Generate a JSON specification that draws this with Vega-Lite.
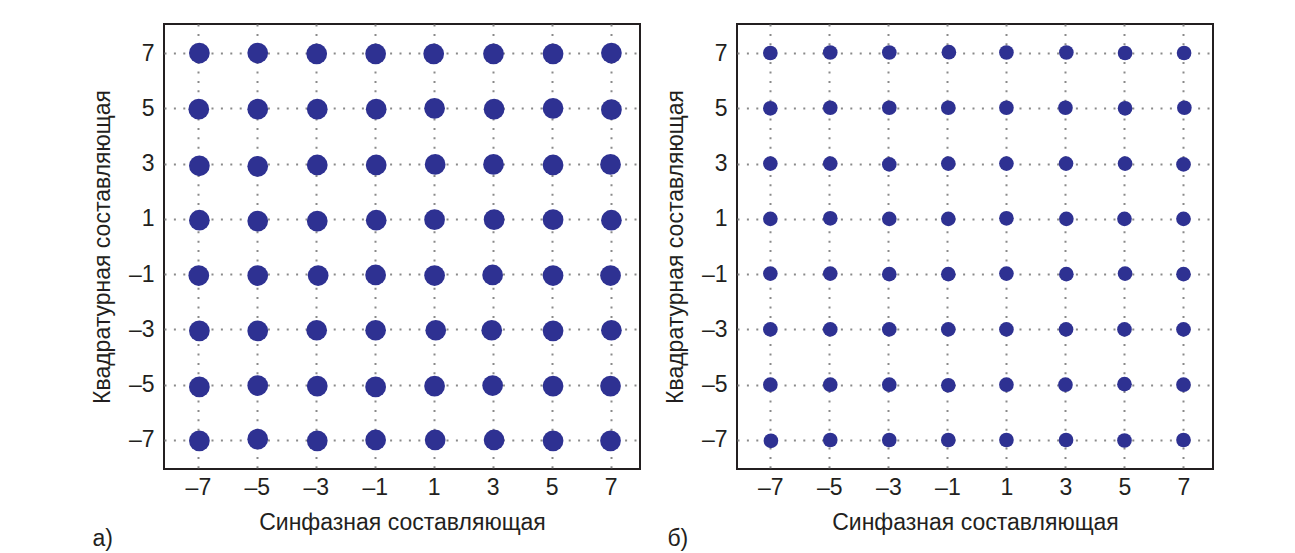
{
  "$schema": "https://vega.github.io/schema/vega-lite/v6.json",
  "background": "white",
  "padding": {"left": 90, "top": 23, "right": 0, "bottom": 0},
  "config": {
    "font": "Liberation Sans",
    "view": {"stroke": "#231f20", "strokeWidth": 2},
    "axis": {
      "grid": true, "gridColor": "#8a8a8a", "gridDash": [2, 7.4], "gridWidth": 2,
      "ticks": false, "domain": false,
      "labelFont": "Liberation Sans", "labelFontSize": 23, "labelColor": "#231f20",
      "titleFont": "Liberation Sans", "titleFontSize": 23, "titleFontWeight": "normal", "titleColor": "#231f20"
    },
    "axisX": {"labelPadding": 7, "titlePadding": 12},
    "axisY": {"labelPadding": 10, "titlePadding": 14},
    "title": {"font": "Liberation Sans", "fontSize": 23, "fontWeight": "normal", "color": "#231f20"},
    "concat": {"spacing": 22}
  },
  "hconcat": [
    {
      "width": 476, "height": 445,
      "title": {"text": "а)", "orient": "bottom", "anchor": "start", "frame": "bounds", "dx": 1, "offset": 0, "dy": -6},
      "data": {"values": [
        {"i": -6.95, "q": 7.0}, {"i": -4.97, "q": 7.0}, {"i": -2.97, "q": 6.97}, {"i": -0.97, "q": 6.97}, {"i": 1.0, "q": 6.97}, {"i": 3.03, "q": 6.97}, {"i": 5.05, "q": 6.97}, {"i": 7.03, "q": 7.0},
        {"i": -6.97, "q": 4.97}, {"i": -4.97, "q": 4.97}, {"i": -2.95, "q": 4.97}, {"i": -0.95, "q": 4.97}, {"i": 1.03, "q": 5.0}, {"i": 3.05, "q": 4.97}, {"i": 5.05, "q": 5.0}, {"i": 7.03, "q": 4.95},
        {"i": -6.95, "q": 2.92}, {"i": -4.97, "q": 2.9}, {"i": -2.95, "q": 2.95}, {"i": -0.95, "q": 2.95}, {"i": 1.05, "q": 2.97}, {"i": 3.03, "q": 2.97}, {"i": 5.05, "q": 2.95}, {"i": 7.0, "q": 2.97},
        {"i": -6.95, "q": 0.95}, {"i": -4.97, "q": 0.92}, {"i": -2.95, "q": 0.92}, {"i": -0.95, "q": 0.95}, {"i": 1.03, "q": 0.97}, {"i": 3.05, "q": 0.97}, {"i": 5.05, "q": 0.97}, {"i": 7.03, "q": 0.95},
        {"i": -6.97, "q": -1.05}, {"i": -4.97, "q": -1.05}, {"i": -2.92, "q": -1.05}, {"i": -0.97, "q": -1.03}, {"i": 1.03, "q": -1.05}, {"i": 3.0, "q": -1.03}, {"i": 5.05, "q": -1.05}, {"i": 7.0, "q": -1.05},
        {"i": -6.95, "q": -3.05}, {"i": -4.97, "q": -3.05}, {"i": -2.97, "q": -3.03}, {"i": -0.97, "q": -3.03}, {"i": 1.07, "q": -3.03}, {"i": 2.97, "q": -3.03}, {"i": 5.05, "q": -3.05}, {"i": 7.03, "q": -3.03},
        {"i": -6.95, "q": -5.08}, {"i": -4.97, "q": -5.03}, {"i": -2.95, "q": -5.05}, {"i": -0.97, "q": -5.08}, {"i": 1.03, "q": -5.05}, {"i": 3.0, "q": -5.03}, {"i": 5.05, "q": -5.05}, {"i": 7.0, "q": -5.05},
        {"i": -6.95, "q": -7.03}, {"i": -4.97, "q": -6.97}, {"i": -2.95, "q": -7.03}, {"i": -0.97, "q": -7.0}, {"i": 1.05, "q": -7.0}, {"i": 3.05, "q": -7.0}, {"i": 5.05, "q": -7.03}, {"i": 7.0, "q": -7.03}
      ]},
      "mark": {"type": "point", "shape": "circle", "filled": true, "size": 430, "color": "#2e3192", "opacity": 1},
      "encoding": {
        "x": {"field": "i", "type": "quantitative", "scale": {"domain": [-8.15, 8], "nice": false, "zero": false},
              "axis": {"values": [-7, -5, -3, -1, 1, 3, 5, 7], "title": "Синфазная составляющая",
                       "labelExpr": "datum.value < 0 ? '\u2013' + (-datum.value) : '' + datum.value"}},
        "y": {"field": "q", "type": "quantitative", "scale": {"domain": [-8.05, 8.05], "nice": false, "zero": false},
              "axis": {"values": [-7, -5, -3, -1, 1, 3, 5, 7], "title": "Квадратурная составляющая",
                       "labelExpr": "datum.value < 0 ? '\u2013' + (-datum.value) : '' + datum.value"}}
      }
    },
    {
      "width": 476, "height": 445,
      "title": {"text": "б)", "orient": "bottom", "anchor": "start", "frame": "bounds", "dx": 3, "offset": 0, "dy": -6},
      "data": {"values": [
        {"i": -7.0, "q": 7.0}, {"i": -4.97, "q": 7.02}, {"i": -2.97, "q": 7.02}, {"i": -0.95, "q": 7.03}, {"i": 1.0, "q": 7.02}, {"i": 3.03, "q": 7.02}, {"i": 5.02, "q": 7.0}, {"i": 7.02, "q": 7.0},
        {"i": -7.0, "q": 5.0}, {"i": -4.97, "q": 5.02}, {"i": -2.97, "q": 5.02}, {"i": -0.97, "q": 5.02}, {"i": 1.0, "q": 5.02}, {"i": 3.0, "q": 5.02}, {"i": 5.02, "q": 5.0}, {"i": 7.03, "q": 5.02},
        {"i": -7.0, "q": 3.0}, {"i": -4.97, "q": 3.0}, {"i": -2.97, "q": 2.97}, {"i": -0.97, "q": 3.0}, {"i": 1.0, "q": 3.0}, {"i": 3.02, "q": 3.0}, {"i": 5.02, "q": 3.0}, {"i": 7.0, "q": 2.97},
        {"i": -7.0, "q": 1.0}, {"i": -4.97, "q": 1.02}, {"i": -2.97, "q": 1.0}, {"i": -0.97, "q": 1.0}, {"i": 1.0, "q": 1.02}, {"i": 3.03, "q": 1.0}, {"i": 5.0, "q": 1.0}, {"i": 7.0, "q": 1.0},
        {"i": -7.0, "q": -0.98}, {"i": -4.97, "q": -0.98}, {"i": -2.97, "q": -1.0}, {"i": -0.97, "q": -1.0}, {"i": 1.0, "q": -0.98}, {"i": 3.03, "q": -1.0}, {"i": 5.02, "q": -0.98}, {"i": 7.0, "q": -1.0},
        {"i": -7.0, "q": -3.0}, {"i": -4.97, "q": -3.0}, {"i": -2.97, "q": -3.0}, {"i": -0.97, "q": -3.0}, {"i": 1.0, "q": -3.0}, {"i": 3.02, "q": -3.0}, {"i": 5.0, "q": -3.0}, {"i": 7.0, "q": -3.0},
        {"i": -7.0, "q": -5.0}, {"i": -4.97, "q": -5.0}, {"i": -2.97, "q": -5.0}, {"i": -0.97, "q": -5.02}, {"i": 1.0, "q": -5.0}, {"i": 3.0, "q": -5.0}, {"i": 5.0, "q": -4.98}, {"i": 7.0, "q": -5.0},
        {"i": -6.98, "q": -7.03}, {"i": -4.97, "q": -7.0}, {"i": -2.97, "q": -7.0}, {"i": -0.97, "q": -7.0}, {"i": 1.0, "q": -7.0}, {"i": 3.02, "q": -7.0}, {"i": 5.0, "q": -7.02}, {"i": 7.0, "q": -7.0}
      ]},
      "mark": {"type": "point", "shape": "circle", "filled": true, "size": 215, "color": "#2e3192", "opacity": 1},
      "encoding": {
        "x": {"field": "i", "type": "quantitative", "scale": {"domain": [-8.13, 8], "nice": false, "zero": false},
              "axis": {"values": [-7, -5, -3, -1, 1, 3, 5, 7], "title": "Синфазная составляющая",
                       "labelExpr": "datum.value < 0 ? '\u2013' + (-datum.value) : '' + datum.value"}},
        "y": {"field": "q", "type": "quantitative", "scale": {"domain": [-8.05, 8.05], "nice": false, "zero": false},
              "axis": {"values": [-7, -5, -3, -1, 1, 3, 5, 7], "title": "Квадратурная составляющая",
                       "labelExpr": "datum.value < 0 ? '\u2013' + (-datum.value) : '' + datum.value"}}
      }
    }
  ]
}
